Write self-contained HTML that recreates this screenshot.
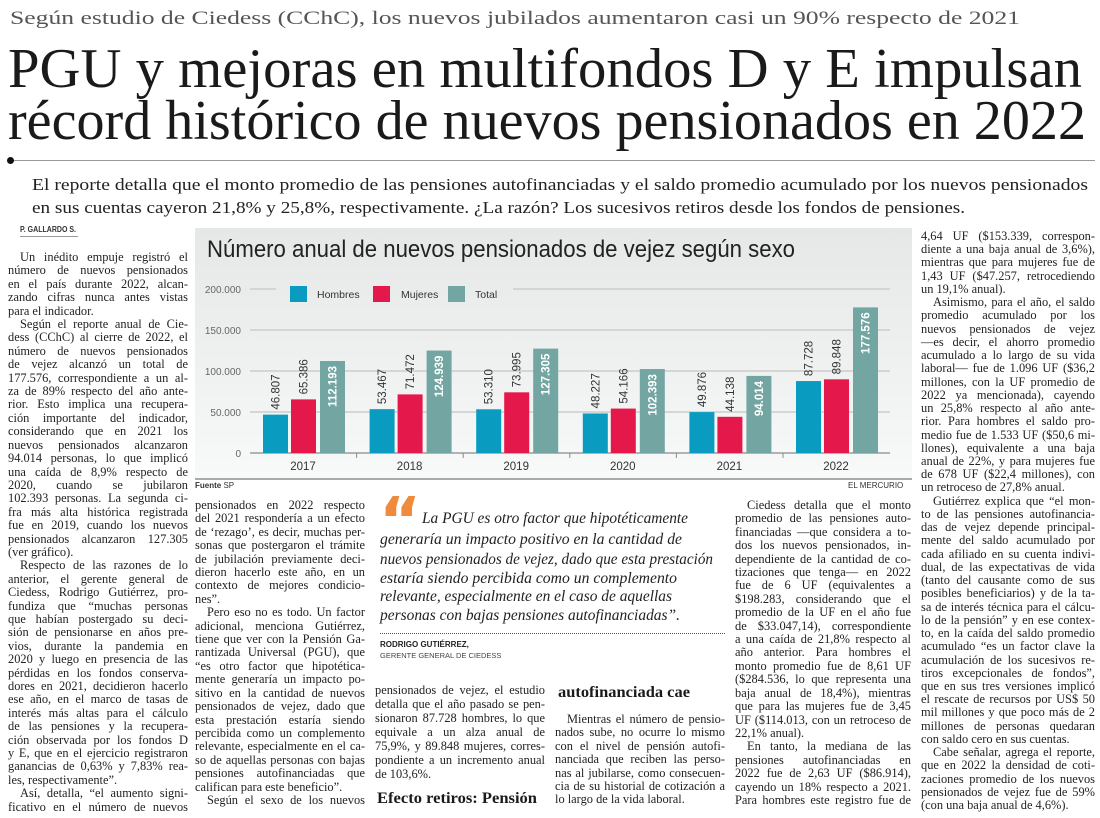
<!DOCTYPE html>
<html><head><meta charset="utf-8"><style>
*{margin:0;padding:0;box-sizing:border-box}
body{width:1100px;height:818px;background:#fff;position:relative;overflow:hidden;font-family:"Liberation Serif",serif;color:#222}
.abs{position:absolute}
.fit{position:absolute;white-space:nowrap;transform-origin:0 0}
.col{position:absolute;font-size:12.4px;line-height:13.4px;font-family:"Liberation Serif",serif;color:#222}
.ln{white-space:nowrap;display:block;overflow:visible}
.ln span{display:inline-block;transform-origin:0 50%}
.i{padding-left:12px}
.q{position:absolute;font-style:italic;font-size:16px;white-space:nowrap;transform-origin:0 0;color:#222}
</style></head><body>

<div class="fit" data-w="1010" style="left:10px;top:7px;font-size:19px;color:#555;line-height:24px">Según estudio de Ciedess (CChC), los nuevos jubilados aumentaron casi un 90% respecto de 2021</div>
<div class="fit" data-w="1074" style="left:8px;top:41px;font-size:56px;line-height:56px;color:#1a1a1a">PGU y mejoras en multifondos D y E impulsan</div>
<div class="fit" data-w="1078" style="left:8px;top:93px;font-size:56px;line-height:56px;color:#1a1a1a">récord histórico de nuevos pensionados en 2022</div>
<div class="abs" style="left:8px;top:160px;width:1087px;height:1px;background:#999"></div>
<div class="abs" style="left:7px;top:157px;width:7px;height:7px;border-radius:50%;background:#111"></div>
<div class="fit" data-w="1056" style="left:32px;top:174px;font-size:17px;line-height:22px">El reporte detalla que el monto promedio de las pensiones autofinanciadas y el saldo promedio acumulado por los nuevos pensionados</div>
<div class="fit" data-w="933" style="left:32px;top:197px;font-size:17px;line-height:22px">en sus cuentas cayeron 21,8% y 25,8%, respectivamente. ¿La razón? Los sucesivos retiros desde los fondos de pensiones.</div>
<div class="fit" data-w="56" style="left:20px;top:225px;font-family:'Liberation Sans',sans-serif;font-weight:bold;font-size:8px;line-height:10px;color:#333">P. GALLARDO S.</div>
<div class="abs" style="left:20px;top:236px;width:58px;height:1px;background:#999"></div>

<div class="col" style="left:8px;top:251px;width:180px">
<div class="ln i">Un inédito empuje registró el</div>
<div class="ln">número de nuevos pensionados</div>
<div class="ln">en el país durante 2022, alcan-</div>
<div class="ln">zando cifras nunca antes vistas</div>
<div class="ln e">para el indicador.</div>
<div class="ln i">Según el reporte anual de Cie-</div>
<div class="ln">dess (CChC) al cierre de 2022, el</div>
<div class="ln">número de nuevos pensionados</div>
<div class="ln">de vejez alcanzó un total de</div>
<div class="ln">177.576, correspondiente a un al-</div>
<div class="ln">za de 89% respecto del año ante-</div>
<div class="ln">rior. Esto implica una recupera-</div>
<div class="ln">ción importante del indicador,</div>
<div class="ln">considerando que en 2021 los</div>
<div class="ln">nuevos pensionados alcanzaron</div>
<div class="ln">94.014 personas, lo que implicó</div>
<div class="ln">una caída de 8,9% respecto de</div>
<div class="ln">2020, cuando se jubilaron</div>
<div class="ln">102.393 personas. La segunda ci-</div>
<div class="ln">fra más alta histórica registrada</div>
<div class="ln">fue en 2019, cuando los nuevos</div>
<div class="ln">pensionados alcanzaron 127.305</div>
<div class="ln e">(ver gráfico).</div>
<div class="ln i">Respecto de las razones de lo</div>
<div class="ln">anterior, el gerente general de</div>
<div class="ln">Ciedess, Rodrigo Gutiérrez, pro-</div>
<div class="ln">fundiza que “muchas personas</div>
<div class="ln">que habían postergado su deci-</div>
<div class="ln">sión de pensionarse en años pre-</div>
<div class="ln">vios, durante la pandemia en</div>
<div class="ln">2020 y luego en presencia de las</div>
<div class="ln">pérdidas en los fondos conserva-</div>
<div class="ln">dores en 2021, decidieron hacerlo</div>
<div class="ln">ese año, en el marco de tasas de</div>
<div class="ln">interés más altas para el cálculo</div>
<div class="ln">de las pensiones y la recupera-</div>
<div class="ln">ción observada por los fondos D</div>
<div class="ln">y E, que en el ejercicio registraron</div>
<div class="ln">ganancias de 0,63% y 7,83% rea-</div>
<div class="ln e">les, respectivamente”.</div>
<div class="ln i">Así, detalla, “el aumento signi-</div>
<div class="ln">ficativo en el número de nuevos</div>
</div>

<div class="abs" style="left:195px;top:228px;width:717px;height:250px;background:linear-gradient(#e6e8e8,#f0f2f2 60%,#f8f9f9)"></div>
<div class="fit" data-w="588" style="left:207px;top:236px;font-family:'Liberation Sans',sans-serif;font-size:24px;line-height:28px;color:#222">Número anual de nuevos pensionados de vejez según sexo</div>
<svg class="abs" style="left:0;top:0" width="1100" height="818" id="chart"></svg>
<div class="abs" style="left:195px;top:478px;width:717px;height:2px;background:#aaa"></div>
<div class="abs" style="left:195px;top:481px;font-family:'Liberation Sans',sans-serif;font-size:8px;color:#333"><b>Fuente</b> SP</div>
<div class="abs" style="left:848px;top:481px;font-family:'Liberation Sans',sans-serif;font-size:8px;color:#333">EL MERCURIO</div>

<div class="col" style="left:195px;top:499px;width:170px">
<div class="ln">pensionados en 2022 respecto</div>
<div class="ln">del 2021 respondería a un efecto</div>
<div class="ln">de ‘rezago’, es decir, muchas per-</div>
<div class="ln">sonas que postergaron el trámite</div>
<div class="ln">de jubilación previamente deci-</div>
<div class="ln">dieron hacerlo este año, en un</div>
<div class="ln">contexto de mejores condicio-</div>
<div class="ln e">nes”.</div>
<div class="ln i">Pero eso no es todo. Un factor</div>
<div class="ln">adicional, menciona Gutiérrez,</div>
<div class="ln">tiene que ver con la Pensión Ga-</div>
<div class="ln">rantizada Universal (PGU), que</div>
<div class="ln">“es otro factor que hipotética-</div>
<div class="ln">mente generaría un impacto po-</div>
<div class="ln">sitivo en la cantidad de nuevos</div>
<div class="ln">pensionados de vejez, dado que</div>
<div class="ln">esta prestación estaría siendo</div>
<div class="ln">percibida como un complemento</div>
<div class="ln">relevante, especialmente en el ca-</div>
<div class="ln">so de aquellas personas con bajas</div>
<div class="ln">pensiones autofinanciadas que</div>
<div class="ln e">califican para este beneficio”.</div>
<div class="ln i">Según el sexo de los nuevos</div>
</div>

<div class="abs" style="left:379px;top:490px;font-family:'DejaVu Sans',sans-serif;font-weight:bold;font-size:64px;line-height:64px;color:#f08a3c">“</div>
<div class="q" data-w="266" style="left:422px;top:510px">La PGU es otro factor que hipotéticamente</div>
<div class="q" data-w="302" style="left:380px;top:531px">generaría un impacto positivo en la cantidad de</div>
<div class="q" data-w="333" style="left:380px;top:551px">nuevos pensionados de vejez, dado que esta prestación</div>
<div class="q" data-w="297" style="left:380px;top:570px">estaría siendo percibida como un complemento</div>
<div class="q" data-w="292" style="left:380px;top:588px">relevante, especialmente en el caso de aquellas</div>
<div class="q" data-w="300" style="left:380px;top:607px">personas con bajas pensiones autofinanciadas”.</div>
<div class="abs" style="left:380px;top:633px;width:345px;border-top:1px dotted #555"></div>
<div class="abs" style="left:380px;top:640px;font-family:'Liberation Sans',sans-serif;font-weight:bold;font-size:8px;color:#222">RODRIGO GUTIÉRREZ,</div>
<div class="abs" style="left:380px;top:651px;font-family:'Liberation Sans',sans-serif;font-size:7.5px;color:#444">GERENTE GENERAL DE CIEDESS</div>

<div class="col" style="left:375px;top:683px;width:170px;line-height:14px">
<div class="ln">pensionados de vejez, el estudio</div>
<div class="ln">detalla que el año pasado se pen-</div>
<div class="ln">sionaron 87.728 hombres, lo que</div>
<div class="ln">equivale a un alza anual de</div>
<div class="ln">75,9%, y 89.848 mujeres, corres-</div>
<div class="ln">pondiente a un incremento anual</div>
<div class="ln e">de 103,6%.</div>
</div>
<div class="fit" data-w="160" style="left:377px;top:789px;font-weight:bold;font-size:16px;line-height:20px;color:#1a1a1a">Efecto retiros: Pensión</div>
<div class="fit" data-w="132" style="left:558px;top:683px;font-weight:bold;font-size:16px;line-height:20px;color:#1a1a1a">autofinanciada cae</div>
<div class="col" style="left:555px;top:713px;width:170px">
<div class="ln i">Mientras el número de pensio-</div>
<div class="ln">nados sube, no ocurre lo mismo</div>
<div class="ln">con el nivel de pensión autofi-</div>
<div class="ln">nanciada que reciben las perso-</div>
<div class="ln">nas al jubilarse, como consecuen-</div>
<div class="ln">cia de su historial de cotización a</div>
<div class="ln e">lo largo de la vida laboral.</div>
</div>

<div class="col" style="left:735px;top:499px;width:176px">
<div class="ln i">Ciedess detalla que el monto</div>
<div class="ln">promedio de las pensiones auto-</div>
<div class="ln">financiadas —que considera a to-</div>
<div class="ln">dos los nuevos pensionados, in-</div>
<div class="ln">dependiente de la cantidad de co-</div>
<div class="ln">tizaciones que tenga— en 2022</div>
<div class="ln">fue de 6 UF (equivalentes a</div>
<div class="ln">$198.283, considerando que el</div>
<div class="ln">promedio de la UF en el año fue</div>
<div class="ln">de $33.047,14), correspondiente</div>
<div class="ln">a una caída de 21,8% respecto al</div>
<div class="ln">año anterior. Para hombres el</div>
<div class="ln">monto promedio fue de 8,61 UF</div>
<div class="ln">($284.536, lo que representa una</div>
<div class="ln">baja anual de 18,4%), mientras</div>
<div class="ln">que para las mujeres fue de 3,45</div>
<div class="ln">UF ($114.013, con un retroceso de</div>
<div class="ln e">22,1% anual).</div>
<div class="ln i">En tanto, la mediana de las</div>
<div class="ln">pensiones autofinanciadas en</div>
<div class="ln">2022 fue de 2,63 UF ($86.914),</div>
<div class="ln">cayendo un 18% respecto a 2021.</div>
<div class="ln">Para hombres este registro fue de</div>
</div>

<div class="col" style="left:921px;top:230px;width:174px;line-height:13.23px">
<div class="ln">4,64 UF ($153.339, correspon-</div>
<div class="ln">diente a una baja anual de 3,6%),</div>
<div class="ln">mientras que para mujeres fue de</div>
<div class="ln">1,43 UF ($47.257, retrocediendo</div>
<div class="ln e">un 19,1% anual).</div>
<div class="ln i">Asimismo, para el año, el saldo</div>
<div class="ln">promedio acumulado por los</div>
<div class="ln">nuevos pensionados de vejez</div>
<div class="ln">—es decir, el ahorro promedio</div>
<div class="ln">acumulado a lo largo de su vida</div>
<div class="ln">laboral— fue de 1.096 UF ($36,2</div>
<div class="ln">millones, con la UF promedio de</div>
<div class="ln">2022 ya mencionada), cayendo</div>
<div class="ln">un 25,8% respecto al año ante-</div>
<div class="ln">rior. Para hombres el saldo pro-</div>
<div class="ln">medio fue de 1.533 UF ($50,6 mi-</div>
<div class="ln">llones), equivalente a una baja</div>
<div class="ln">anual de 22%, y para mujeres fue</div>
<div class="ln">de 678 UF ($22,4 millones), con</div>
<div class="ln e">un retroceso de 27,8% anual.</div>
<div class="ln i">Gutiérrez explica que “el mon-</div>
<div class="ln">to de las pensiones autofinancia-</div>
<div class="ln">das de vejez depende principal-</div>
<div class="ln">mente del saldo acumulado por</div>
<div class="ln">cada afiliado en su cuenta indivi-</div>
<div class="ln">dual, de las expectativas de vida</div>
<div class="ln">(tanto del causante como de sus</div>
<div class="ln">posibles beneficiarios) y de la ta-</div>
<div class="ln">sa de interés técnica para el cálcu-</div>
<div class="ln">lo de la pensión” y en ese contex-</div>
<div class="ln">to, en la caída del saldo promedio</div>
<div class="ln">acumulado “es un factor clave la</div>
<div class="ln">acumulación de los sucesivos re-</div>
<div class="ln">tiros excepcionales de fondos”,</div>
<div class="ln">que en sus tres versiones implicó</div>
<div class="ln">el rescate de recursos por US$ 50</div>
<div class="ln">mil millones y que poco más de 2</div>
<div class="ln">millones de personas quedaran</div>
<div class="ln e">con saldo cero en sus cuentas.</div>
<div class="ln i">Cabe señalar, agrega el reporte,</div>
<div class="ln">que en 2022 la densidad de coti-</div>
<div class="ln">zaciones promedio de los nuevos</div>
<div class="ln">pensionados de vejez fue de 59%</div>
<div class="ln e">(con una baja anual de 4,6%).</div>
</div>

<script>
const years = ["2017","2018","2019","2020","2021","2022"];
const hombres = [46807,53467,53310,48227,49876,87728];
const mujeres = [65386,71472,73995,54166,44138,89848];
const totales = [112193,124939,127305,102393,94014,177576];
const yTicks = [0,50000,100000,150000,200000];
const seriesNames = ["Hombres","Mujeres","Total"];

const NS="http://www.w3.org/2000/svg";
const svg=document.getElementById('chart');
const fmt=v=>v.toLocaleString('de-DE');
function y(v){return 453 - v*164/200000;}
function gx(i){return 250 + i*106.6;}
function mk(tag,attrs,parent){const e=document.createElementNS(NS,tag);for(const k in attrs)e.setAttribute(k,attrs[k]);(parent||svg).appendChild(e);return e;}

yTicks.forEach(t=>{
  if(t>0){
    if(t===200000){
      const a=mk('line',{x1:250,x2:276,y1:y(t),y2:y(t),stroke:'#cbcdcd','stroke-width':1.6});
      
      
      const b=mk('line',{x1:513,x2:890,y1:y(t),y2:y(t),stroke:'#cbcdcd','stroke-width':1.6});
      
      
    } else {
      const g=mk('line',{x1:250,x2:890,y1:y(t),y2:y(t),stroke:'#cbcdcd','stroke-width':1.6});
      
      
    }
  }
  const tl=mk('text',{x:241,y:y(t)+4,'text-anchor':'end','font-family':'Liberation Sans, sans-serif','font-size':10,fill:'#666'});
  tl.textContent=fmt(t);
  
  
});
const base=mk('line',{x1:250,x2:890,y1:y(0),y2:y(0),stroke:'#8a8a8a','stroke-width':1.2});



const colors=['#0a9bc0','#e5184b','#73a6a2'];
const offs=[13,41,70], bw=25;
years.forEach((yr,i)=>{
  if(i>0){const tk=mk('line',{x1:gx(i),x2:gx(i),y1:y(0),y2:y(0)+5,stroke:'#8a8a8a'});
    
    }
  const vals=[hombres[i],mujeres[i],totales[i]];
  vals.forEach((v,s)=>{
    const r=mk('rect',{x:gx(i)+offs[s],y:y(v),width:bw,height:y(0)-y(v),fill:colors[s]});
    
    
    const cx=gx(i)+offs[s]+bw/2+4;
    let t;
    if(s<2){
      t=mk('text',{x:cx,y:y(v)-5,transform:`rotate(-90 ${cx} ${y(v)-5})`,'font-family':'Liberation Sans, sans-serif','font-size':11.5,fill:'#333'});
    } else {
      t=mk('text',{x:cx,y:y(v)+5,transform:`rotate(-90 ${cx} ${y(v)+5})`,'text-anchor':'end','font-family':'Liberation Sans, sans-serif','font-size':11.5,'font-weight':'bold',fill:'#fff'});
    }
    t.textContent=fmt(v);
    
    
  });
  const yl=mk('text',{x:gx(i)+53,y:470,'text-anchor':'middle','font-family':'Liberation Sans, sans-serif','font-size':11.5,fill:'#333'});
  yl.textContent=yr;
  
  
});
const legX=[290,373,448], legT=[317,401,475];
seriesNames.forEach((n,s)=>{
  const r=mk('rect',{x:legX[s],y:286,width:17,height:16,fill:colors[s]});
  
  
  const t=mk('text',{x:legT[s],y:298,'font-family':'Liberation Sans, sans-serif','font-size':10.5,fill:'#333'});
  t.textContent=n;
  
  
});

document.querySelectorAll('.fit,.q').forEach(el=>{
  const W=parseFloat(el.getAttribute('data-w'));
  const w=el.getBoundingClientRect().width;
  if(W&&w) el.style.transform=`scaleX(${W/w})`;
});
document.querySelectorAll('.ln').forEach(d=>{
  
  
  const txt=d.textContent;
  d.textContent='';
  const s=document.createElement('span');
  s.textContent=txt;
  d.appendChild(s);
  const W=d.clientWidth-parseFloat(getComputedStyle(d).paddingLeft);
  const w=s.getBoundingClientRect().width;
  if(w>W){ s.style.transform=`scaleX(${W/w})`; }
  else if(!d.classList.contains('e')){
    const n=(txt.match(/ /g)||[]).length;
    if(n>0) s.style.wordSpacing=((W-w)/n)+'px';
    else s.style.letterSpacing=((W-w)/Math.max(1,txt.length-1))+'px';
  }
});
</script>
</body></html>
